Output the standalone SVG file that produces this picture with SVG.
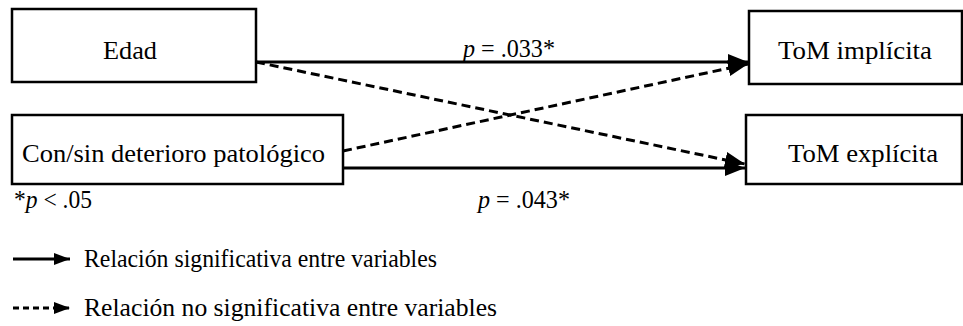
<svg xmlns="http://www.w3.org/2000/svg" width="963" height="326" viewBox="0 0 963 326" font-family="Liberation Serif, Times New Roman, serif">
<defs>
<style>
.box{fill:#fff;stroke:#000;stroke-width:2.5}
.t{font-family:'Liberation Serif','Times New Roman',serif;font-size:26px;fill:#000}
.ln{stroke:#000;stroke-width:3;fill:none}
.d{stroke-dasharray:9 5}
</style>
<marker id="ah" markerUnits="userSpaceOnUse" markerWidth="22" markerHeight="18" refX="20" refY="8" orient="auto">
<path d="M0,0 L20,8 L0,16 Z" fill="#000"/>
</marker>
<marker id="ahs" markerUnits="userSpaceOnUse" markerWidth="18" markerHeight="14" refX="16" refY="6" orient="auto">
<path d="M0,0 L16,6 L0,12 Z" fill="#000"/>
</marker>
</defs>
<g id="connectors">
<line class="ln" x1="256" y1="62" x2="748" y2="62" marker-end="url(#ah)"/>
<line class="ln" x1="343" y1="168" x2="745" y2="168" marker-end="url(#ah)"/>
<line class="ln d" x1="256" y1="62" x2="745" y2="164" marker-end="url(#ah)"/>
<line class="ln d" x1="343" y1="151" x2="748" y2="64" marker-end="url(#ah)"/>
</g>
<g id="edad"><rect class="box" x="12" y="9" width="244" height="73"/><text class="t" x="103" y="59" textLength="54" lengthAdjust="spacingAndGlyphs">Edad</text></g>
<g id="consin"><rect class="box" x="12" y="115" width="331" height="69"/><text class="t" x="22" y="162" textLength="303" lengthAdjust="spacingAndGlyphs">Con/sin deterioro patológico</text></g>
<g id="tomimp"><rect class="box" x="749" y="11" width="213" height="73"/><text class="t" x="778" y="59" textLength="154" lengthAdjust="spacingAndGlyphs">ToM implícita</text></g>
<g id="tomexp"><rect class="box" x="746" y="115" width="216" height="69"/><text class="t" x="788" y="162" textLength="150" lengthAdjust="spacingAndGlyphs">ToM explícita</text></g>
<g id="labels">
<text class="t" x="463" y="57" textLength="92" lengthAdjust="spacingAndGlyphs"><tspan font-style="italic">p</tspan> = .033*</text>
<text class="t" x="478" y="208" textLength="92" lengthAdjust="spacingAndGlyphs"><tspan font-style="italic">p</tspan> = .043*</text>
<text class="t" x="14" y="208" textLength="78" lengthAdjust="spacingAndGlyphs">*<tspan font-style="italic">p</tspan> &lt; .05</text>
</g>
<g id="legend">
<line class="ln" x1="13" y1="259" x2="70" y2="259" marker-end="url(#ahs)"/>
<text class="t" x="84" y="267" textLength="353" lengthAdjust="spacingAndGlyphs">Relación significativa entre variables</text>
<line class="ln d" x1="13" y1="308" x2="70" y2="308" marker-end="url(#ahs)" style="stroke-dasharray:6 4"/>
<text class="t" x="84" y="316" textLength="413" lengthAdjust="spacingAndGlyphs">Relación no significativa entre variables</text>
</g>
</svg>
